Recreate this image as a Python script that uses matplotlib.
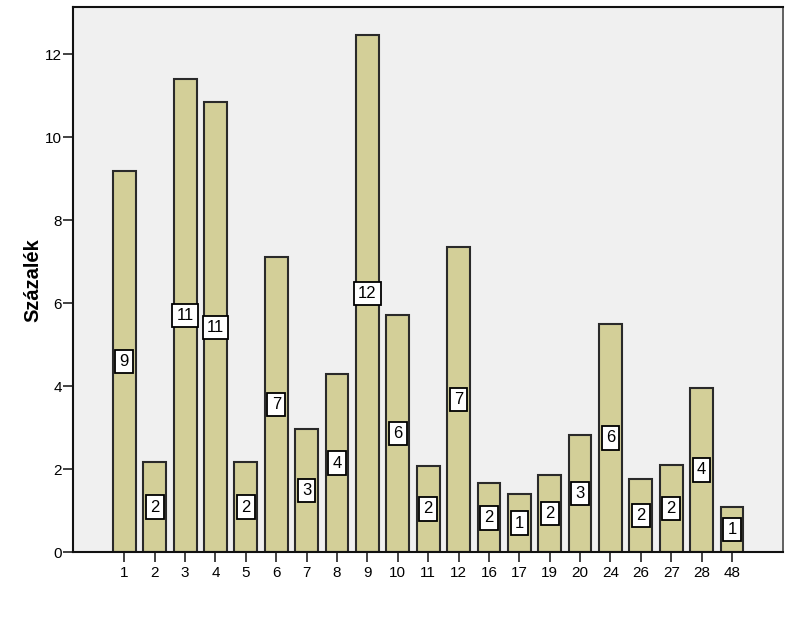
import matplotlib
matplotlib.use("Agg")
import matplotlib.pyplot as plt
import numpy as np

plt.rcParams['font.family'] = ['Liberation Sans', 'DejaVu Sans']

categories = ['1', '2', '3', '4', '5', '6', '7', '8', '9', '10', '11', '12',
              '16', '17', '19', '20', '24', '26', '27', '28', '48']
percent = [9.18, 2.18, 11.41, 10.84, 2.18, 7.12, 2.98, 4.30, 12.47, 5.71, 2.09,
           7.36, 1.66, 1.41, 1.87, 2.83, 5.51, 1.77, 2.10, 3.97, 1.09]
bar_labels = ['9', '2', '11', '11', '2', '7', '3', '4', '12', '6', '2',
              '7', '2', '1', '2', '3', '6', '2', '2', '4', '1']
yticks = [0, 2, 4, 6, 8, 10, 12]

fig = plt.figure(figsize=(7.9, 6.24), dpi=100)
ax = fig.add_axes([0.0928, 0.1149, 0.8980, 0.8739])
ax.set_facecolor('#F0F0F0')

x = np.arange(len(categories))
ax.bar(x, percent, width=0.75, color='#D3CF98', edgecolor='#2a2a2a',
       linewidth=1.5, zorder=2)

for xi, v, lab in zip(x, percent, bar_labels):
    ax.text(xi, v / 2, lab, ha='center', va='center', fontsize=12, zorder=3,
            bbox=dict(boxstyle='square,pad=0.25', facecolor='white',
                      edgecolor='black', linewidth=1.3))

ax.set_xlim(-1.68, 21.67)
ax.set_ylim(0, 13.14)
ax.set_xticks(x)
ax.set_xticklabels(categories, fontsize=11)
ax.set_yticks(yticks)
ax.set_yticklabels([str(t) for t in yticks], fontsize=11)
ax.tick_params(axis='both', direction='out', length=7, width=1.2, color='#222222')
ax.tick_params(axis='y', pad=1)
ax.tick_params(axis='x', pad=3)

for s in ['top', 'left', 'bottom']:
    ax.spines[s].set_linewidth(1.5)
    ax.spines[s].set_color('#111111')
ax.spines['right'].set_linewidth(1.3)
ax.spines['right'].set_color('#555555')

ax.set_ylabel('Százalék', fontsize=14.5, fontweight='bold', labelpad=2)

fig.savefig('out.png', dpi=100)
